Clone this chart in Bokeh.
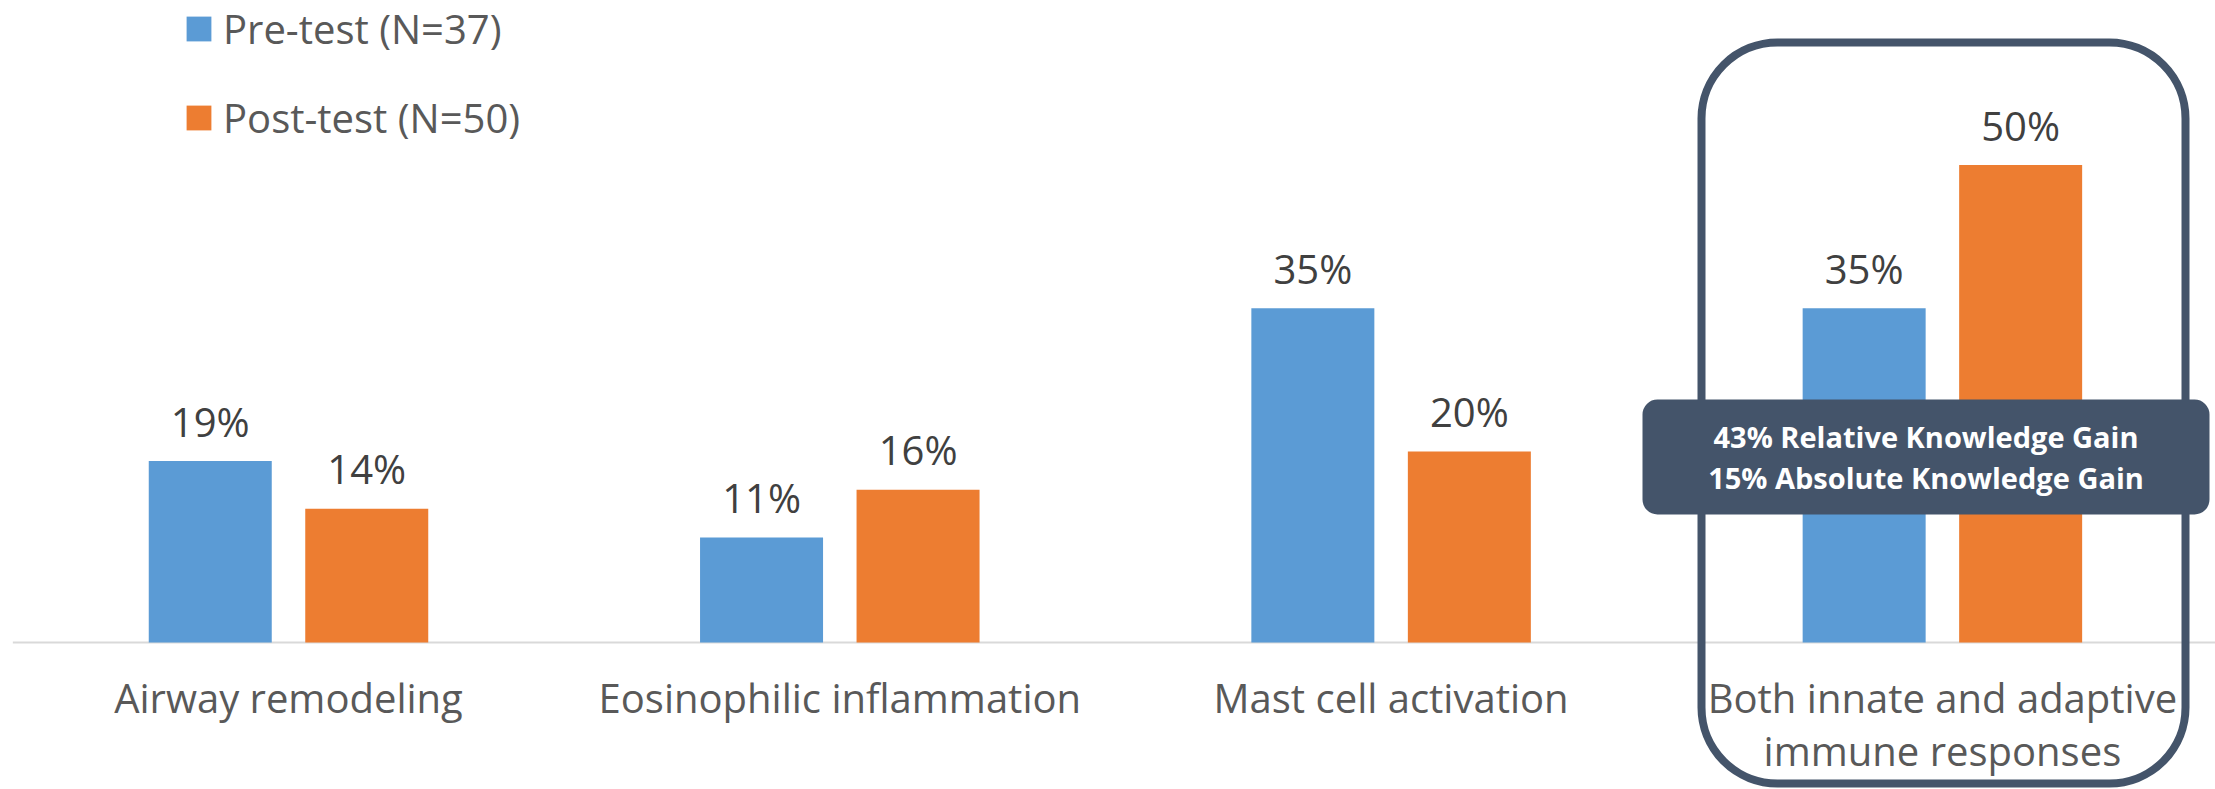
from bokeh.plotting import figure
from bokeh.models import Range1d, Legend, LegendItem, ColumnDataSource
from bokeh.core.properties import value
from bokeh.embed import file_html
from bokeh.resources import INLINE

# ---- data -------------------------------------------------------------
categories = [
    "Airway remodeling",
    "Eosinophilic inflammation",
    "Mast cell activation",
    "Both innate and adaptive\nimmune responses",
]
pre_test = [19, 11, 35, 35]
post_test = [14, 16, 20, 50]
series_names = ["Pre-test (N=37)", "Post-test (N=50)"]
highlight_index = 3  # the correct answer

# ---- styling / layout --------------------------------------------------
W, H = 2215, 789
BLUE = "#5B9BD5"
ORANGE = "#ED7D31"
DARK = "#44546A"
LABEL_GREY = "#595959"
VALUE_GREY = "#404040"
FONT = "Open Sans"

BASE_PX = 642.0       # baseline position from top of canvas
PX_PER_PCT = 9.55     # vertical pixels per percentage point
CAT_LEFT_PX = 12.35   # left edge of the first category slot
CAT_PX = 551.3        # width of one category slot
BAR_W = 123 / CAT_PX
BAR_OFF = 78.25 / CAT_PX
BASELINE_LIFT = 0.45  # text glyphs sit a little low; lift by this many em


def xd(px):
    return (px - CAT_LEFT_PX) / CAT_PX


def yd(py):
    return (BASE_PX - py) / PX_PER_PCT


p = figure(
    width=W, height=H,
    x_range=Range1d(xd(0), xd(W)),
    y_range=Range1d(yd(H), yd(0)),
    x_axis_type=None, y_axis_type=None,
    output_backend="svg", toolbar_location=None,
    min_border=0, title=None,
)
p.min_border_left = p.min_border_right = p.min_border_top = p.min_border_bottom = 0
p.outline_line_color = None
p.grid.visible = False
p.background_fill_color = "white"
p.border_fill_color = "white"

# category axis line, from the first slot to the right edge
p.segment(x0=[0], y0=[0], x1=[len(categories)], y1=[0],
          line_color="#D9D9D9", line_width=2)

# ---- highlight frame around the last category ---------------------------
p.quad(left=[xd(1701)], right=[xd(2185)], top=[yd(42)], bottom=[yd(783)],
       fill_color=None, line_color=DARK, line_width=8, border_radius=76)

# ---- bars --------------------------------------------------------------
VALUE_FS = 40
value_gap = (22 + BASELINE_LIFT * VALUE_FS) / PX_PER_PCT
idx = list(range(len(categories)))
src_pre = ColumnDataSource(dict(
    x=[i + 0.5 - BAR_OFF for i in idx], top=pre_test,
    label=[f"{v}%" for v in pre_test],
    ly=[v + value_gap for v in pre_test]))
src_post = ColumnDataSource(dict(
    x=[i + 0.5 + BAR_OFF for i in idx], top=post_test,
    label=[f"{v}%" for v in post_test],
    ly=[v + value_gap for v in post_test]))

r_pre = p.vbar(x="x", top="top", bottom=0, width=BAR_W, source=src_pre,
               fill_color=BLUE, line_color=None)
r_post = p.vbar(x="x", top="top", bottom=0, width=BAR_W, source=src_post,
                fill_color=ORANGE, line_color=None)

for src in (src_pre, src_post):
    p.text(x="x", y="ly", text="label", source=src,
           text_font=value(FONT), text_font_size=f"{VALUE_FS}px",
           text_color=VALUE_GREY, text_align="center",
           text_baseline="alphabetic")

# ---- category labels -----------------------------------------------------
CAT_FS = 40
lx, ly, lt = [], [], []
for i, cat in enumerate(categories):
    for j, line in enumerate(cat.split("\n")):
        lx.append(i + 0.5)
        ly.append(yd(715 + 53 * j - BASELINE_LIFT * CAT_FS))
        lt.append(line)
p.text(x=lx, y=ly, text=lt, text_font=value(FONT), text_font_size=f"{CAT_FS}px",
       text_color=LABEL_GREY, text_align="center", text_baseline="alphabetic")

# ---- knowledge gain callout ---------------------------------------------
pre_h, post_h = pre_test[highlight_index], post_test[highlight_index]
relative_gain = round((post_h - pre_h) / pre_h * 100)
absolute_gain = post_h - pre_h
gain_lines = [f"{relative_gain}% Relative Knowledge Gain",
              f"{absolute_gain}% Absolute Knowledge Gain"]

GAIN_FS = 29
p.quad(left=[xd(1642)], right=[xd(2209)], top=[yd(399)], bottom=[yd(514)],
       fill_color=DARK, line_color=None, border_radius=15)
p.text(x=[xd(1925.5)] * 2,
       y=[yd(449 - BASELINE_LIFT * GAIN_FS), yd(490 - BASELINE_LIFT * GAIN_FS)],
       text=gain_lines,
       text_font=value(FONT), text_font_size=f"{GAIN_FS}px", text_font_style="bold",
       text_color="white", text_align="center", text_baseline="alphabetic")

# ---- legend -------------------------------------------------------------
legend = Legend(
    items=[LegendItem(label=series_names[0], renderers=[r_pre]),
           LegendItem(label=series_names[1], renderers=[r_post])],
    location=(183, 644.5),
    orientation="vertical",
    glyph_width=31, glyph_height=31, label_height=31,
    label_standoff=9, spacing=34, padding=0, margin=0,
    label_text_font=FONT, label_text_font_size="40px",
    label_text_color=LABEL_GREY,
    border_line_color=None, background_fill_alpha=0,
)
p.add_layout(legend)

open("out.html", "w").write(file_html(p, INLINE))
